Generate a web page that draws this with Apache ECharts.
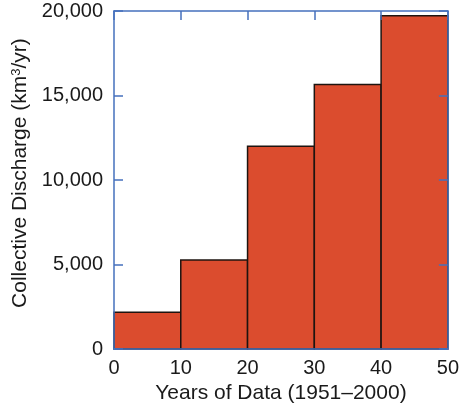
<!DOCTYPE html>
<html><head><meta charset="utf-8">
<script src="https://cdn.jsdelivr.net/npm/echarts@6/dist/echarts.min.js"></script>
<style>html,body{margin:0;padding:0;background:#fff}#c{width:462px;height:409px}</style>
</head><body><div id="c"></div>
<script>
const binStarts = [0, 10, 20, 30, 40];
const binEnds = [10, 20, 30, 40, 50];
const discharge = [2180, 5270, 12000, 15650, 19720];
const yTickLabels = ['0', '5,000', '10,000', '15,000', '20,000'];
const xTickLabels = ['0', '10', '20', '30', '40', '50'];

const axisBlue = '#4570bd';
const font = 'Liberation Sans, Arial, Helvetica, sans-serif';
const FS = 20;
const NFS = 21;
const chart = echarts.init(document.getElementById('c'), null, {renderer: 'canvas'});
const boxLine = {show: true, onZero: false, lineStyle: {color: axisBlue, width: 1.5}};
const inTick = {show: true, inside: true, length: 9, lineStyle: {color: axisBlue, width: 1.5}};
chart.setOption({
  animation: false,
  grid: {left: 114, right: 8.5, top: 11, bottom: 59, containLabel: false},
  xAxis: [{
    type: 'value', min: 0, max: 50, interval: 10, position: 'bottom', z: 5,
    name: 'Years of Data (1951\u20132000)', nameLocation: 'middle', nameGap: 33,
    nameTextStyle: {fontFamily: font, fontSize: NFS, color: '#1a1a1a'},
    axisLine: boxLine,
    axisTick: {show: false},
    splitLine: {show: false},
    axisLabel: {fontFamily: font, fontSize: FS, color: '#1a1a1a', margin: 9,
      formatter: (v) => xTickLabels[Math.round(v / 10)]}
  }, {
    type: 'value', min: 0, max: 50, interval: 10, position: 'top', z: 5,
    axisLine: boxLine, axisTick: inTick,
    splitLine: {show: false}, axisLabel: {show: false}
  }],
  yAxis: [{
    type: 'value', min: 0, max: 20000, interval: 5000, position: 'left', z: 5,
    name: 'Collective Discharge (km{sup|3}/yr)', nameLocation: 'middle', nameGap: 81,
    nameRotate: 90,
    nameTextStyle: {fontFamily: font, fontSize: NFS, color: '#1a1a1a', padding: [0, 0, 0, 14],
      rich: {sup: {fontFamily: font, fontSize: 13, color: '#1a1a1a', verticalAlign: 'top', padding: [0, 0, 8, 0]}}},
    axisLine: boxLine, axisTick: inTick,
    splitLine: {show: false},
    axisLabel: {fontFamily: font, fontSize: FS, color: '#1a1a1a', margin: 11,
      formatter: (v) => yTickLabels[Math.round(v / 5000)]}
  }, {
    type: 'value', min: 0, max: 20000, interval: 5000, position: 'right', z: 5,
    axisLine: boxLine, axisTick: inTick,
    splitLine: {show: false}, axisLabel: {show: false}
  }],
  series: [{
    type: 'custom', z: 2,
    xAxisIndex: 0, yAxisIndex: 0,
    data: binStarts.map((s, i) => [s, binEnds[i], discharge[i]]),
    renderItem: function (params, api) {
      const p0 = api.coord([api.value(0), api.value(2)]);
      const p1 = api.coord([api.value(1), 0]);
      return {
        type: 'rect',
        shape: {x: p0[0], y: p0[1], width: p1[0] - p0[0], height: p1[1] - p0[1]},
        style: {fill: '#db4c2e', stroke: '#1e1410', lineWidth: 1.5}
      };
    }
  }]
});
</script></body></html>
